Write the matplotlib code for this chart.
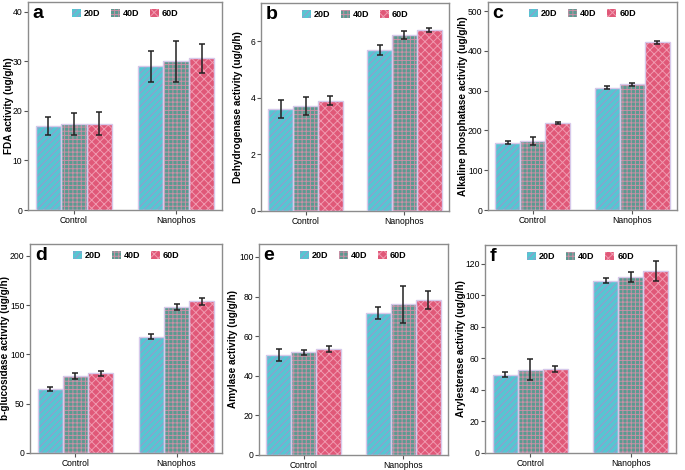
import numpy as np
import matplotlib.pyplot as plt
from matplotlib.patches import Patch

plt.rcParams['font.family'] = ['Liberation Sans', 'DejaVu Sans']
plt.rcParams['hatch.linewidth'] = 0.7

groups = ["Control", "Nanophos"]
series = ["20D", "40D", "60D"]

fda = [[17.0, 17.3, 17.4], [29.0, 30.0, 30.6]]
fda_err = [[1.8, 2.2, 2.35], [3.1, 4.2, 2.9]]

dha = [[3.6, 3.72, 3.9], [5.68, 6.22, 6.4]]
dha_err = [[0.32, 0.32, 0.17], [0.18, 0.13, 0.07]]

alp = [[169, 174, 219], [308, 316, 422]]
alp_err = [[4, 10, 3], [3, 4, 4]]

bgl = [[65, 78, 81], [118, 148, 154]]
bgl_err = [[2, 3.4, 2.5], [2.5, 3, 3.4]]

amy = [[50.5, 51.8, 53.3], [71.7, 76.0, 78.3]]
amy_err = [[3.1, 1.2, 1.5], [2.9, 9.3, 4.4]]

ary = [[49.7, 52.9, 53.3], [109.4, 111.5, 115.6]]
ary_err = [[1.5, 6.8, 2.1], [1.4, 3.2, 6.2]]

panels = [
    ("a", fda, fda_err, "FDA activity (ug/g/h)", 42, [0, 10, 20, 30, 40]),
    ("b", dha, dha_err, "Dehydrogenase activity (ug/g/h)", 7.35, [0, 2, 4, 6]),
    ("c", alp, alp_err, "Alkaline phosphatase activity (ug/g/h)", 523, [0, 100, 200, 300, 400, 500]),
    ("d", bgl, bgl_err, "b-glucosidase activity (ug/g/h)", 212, [0, 50, 100, 150, 200]),
    ("e", amy, amy_err, "Amylase activity (ug/g/h)", 106.5, [0, 20, 40, 60, 80, 100]),
    ("f", ary, ary_err, "Arylesterase activity (ug/g/h)", 132, [0, 20, 40, 60, 80, 100, 120]),
]

# pixel boxes: left, right, top, bottom, ylabel right edge
boxes = [
    (28, 222, 2, 210, 14), (261, 449, 3, 211, 243), (488, 677, 2, 210, 468),
    (30, 222, 244, 453, 10), (259, 448, 244, 455, 238), (485, 676, 245, 453, 466),
]

W, H = 685, 470
face = ["#56c6d2", "#5a9a90", "#e05878"]
hatchcol = ["#9a98cc", "#c890a6", "#f09ab0"]
hatches = ["/////", "++++", "xxxx"]
edge = "#d6c8ea"

fig = plt.figure(figsize=(W / 100, H / 100), dpi=100)

x = np.arange(len(groups))
bw = 0.25

for (letter, vals, errs, ylab, ytop, yt), (l, r, t, b, lx) in zip(panels, boxes):
    ax = fig.add_axes([l / W, 1 - b / H, (r - l) / W, (b - t) / H])
    vals = np.array(vals)
    errs = np.array(errs)
    for i in range(3):
        xs = x + (i - 1) * bw
        ax.bar(xs, vals[:, i], bw, color=face[i], linewidth=0, zorder=2)
        ax.bar(xs, vals[:, i], bw, facecolor="none", edgecolor=hatchcol[i],
               hatch=hatches[i], linewidth=0, zorder=3)
        ax.bar(xs, vals[:, i], bw, facecolor="none", edgecolor=edge,
               linewidth=1.0, zorder=4)
        ax.errorbar(xs, vals[:, i], yerr=errs[:, i], fmt="none", ecolor="#222222",
                    elinewidth=1.1, capsize=2.5, capthick=1.1, zorder=5)
    ax.set_xlim(-0.45, 1.45)
    ax.set_ylim(0, ytop)
    ax.set_yticks(yt)
    ax.set_xticks(x)
    ax.set_xticklabels(groups)
    ax.tick_params(labelsize=6.2, length=3, color="#555555", width=0.8, pad=1)
    for s in ax.spines.values():
        s.set_color("#8c8c8c")
        s.set_linewidth(1.0)
    ax.set_ylabel(ylab, fontsize=7.2, fontweight="bold")
    ax.yaxis.set_label_coords((lx - l) / (r - l), 0.5)
    ax.text(0.025, 0.985, letter, transform=ax.transAxes, fontsize=14,
            fontweight="bold", va="top", ha="left")
    handles = [Patch(facecolor=face[i], edgecolor=hatchcol[i], hatch=hatches[i],
                     linewidth=0) for i in range(3)]
    leg = ax.legend(handles, series, loc="upper center", bbox_to_anchor=(0.5, 1.0),
                    ncol=3, frameon=False, fontsize=6.5, handlelength=1.0,
                    handleheight=1.0, handletextpad=0.3, columnspacing=1.2,
                    borderaxespad=0.4)
    for txt in leg.get_texts():
        txt.set_fontweight("bold")

fig.savefig("out.png", dpi=100)
